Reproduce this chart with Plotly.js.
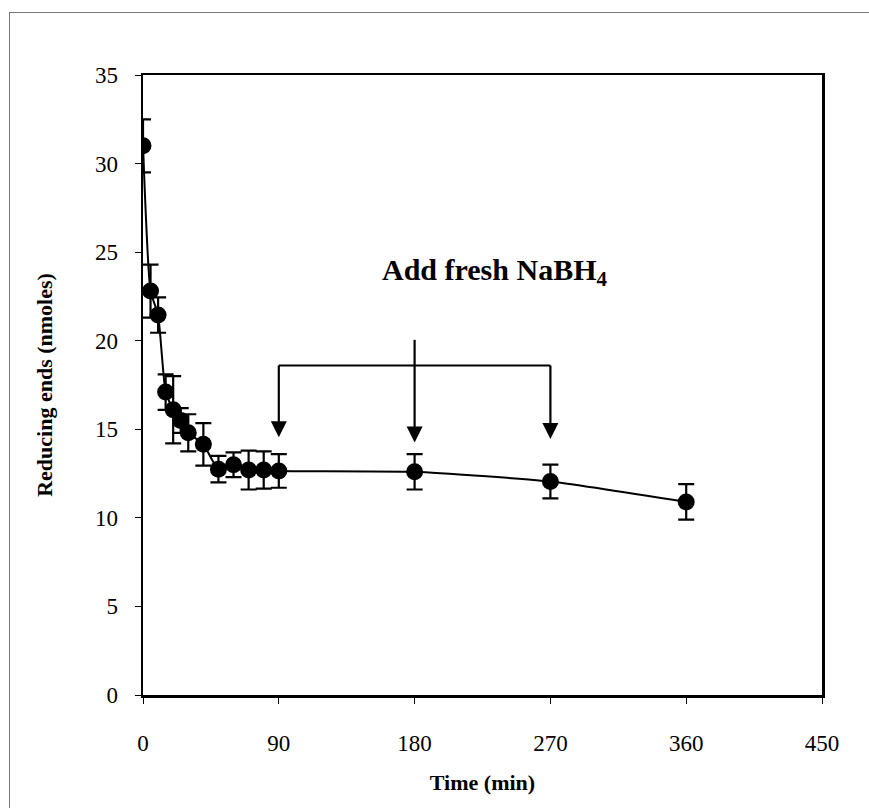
<!DOCTYPE html>
<html>
<head>
<meta charset="utf-8">
<script src="https://cdn.plot.ly/plotly-3.0.1.min.js"></script>
<style>
html,body{margin:0;padding:0;background:#fff;}
#wrap{position:relative;width:869px;height:808px;}
#chart{width:869px;height:808px;}
#frame{position:absolute;left:9px;top:12px;right:0;bottom:0;border-top:1px solid #777;border-left:1px solid #777;pointer-events:none;}
</style>
</head>
<body>
<div id="wrap"><div id="chart"></div><div id="frame"></div></div>
<script>
// Data
const timeMin = [0, 5, 10, 15, 20, 25, 30, 40, 50, 60, 70, 80, 90, 180, 270, 360];
const reducingEnds = [31.0, 22.8, 21.45, 17.1, 16.1, 15.5, 14.8, 14.15, 12.75, 13.0, 12.7, 12.7, 12.65, 12.6, 12.05, 10.9];
const errorVals = [1.5, 1.5, 1.0, 1.0, 1.9, 0.7, 1.05, 1.2, 0.75, 0.7, 1.1, 1.05, 0.95, 1.0, 0.95, 1.0];
const xTicks = [0, 90, 180, 270, 360, 450];
const yTicks = [0, 5, 10, 15, 20, 25, 30, 35];
const additionTimes = [90, 180, 270];
const bracketLevel = 18.6;
const centerStart = 20.05;
const arrowTips = [14.55, 14.25, 14.45];
const noteText = 'Add fresh NaBH<sub>4</sub>';
const notePos = [233, 23.9];

const serif = 'Liberation Serif, Times New Roman, serif';

const dataTrace = {
  x: timeMin,
  y: reducingEnds,
  type: 'scatter',
  mode: 'lines+markers',
  line: {color: '#000', width: 2, shape: 'spline', smoothing: 0.5},
  marker: {color: '#000', size: 17, symbol: 'circle'},
  error_y: {type: 'data', array: errorVals, visible: true, color: '#000', thickness: 2.2, width: 8},
  showlegend: false,
  hoverinfo: 'x+y'
};

const arrowHeads = {
  x: additionTimes,
  y: arrowTips,
  type: 'scatter',
  mode: 'markers',
  marker: {color: '#000', size: 16, symbol: 'arrow-down', line: {width: 0}},
  showlegend: false,
  hoverinfo: 'skip'
};

const shapes = [
  {type: 'line', xref: 'x', yref: 'y', x0: additionTimes[0], x1: additionTimes[2], y0: bracketLevel, y1: bracketLevel, line: {color: '#000', width: 2}}
].concat(additionTimes.map((t, i) => ({
  type: 'line', xref: 'x', yref: 'y', x0: t, x1: t,
  y0: (i === 1 ? centerStart : bracketLevel), y1: arrowTips[i] + 0.5,
  line: {color: '#000', width: 2.2}
})));

const annotations = [{
  x: notePos[0], y: notePos[1], xref: 'x', yref: 'y', showarrow: false,
  text: '<b>' + noteText + '</b>',
  font: {family: serif, size: 30, color: '#000'}
}];

const layout = {
  width: 869, height: 808,
  margin: {l: 143, r: 47, t: 75, b: 113},
  paper_bgcolor: '#fff', plot_bgcolor: '#fff',
  font: {family: serif, color: '#000', size: 23},
  xaxis: {
    range: [0, 450], tickvals: xTicks, ticktext: xTicks.map(String),
    showgrid: false, zeroline: false,
    showline: true, linecolor: '#000', linewidth: 2.5, mirror: true,
    ticks: 'outside', ticklen: 6, tickwidth: 1, tickcolor: '#000',
    ticklabelstandoff: 20,
    tickfont: {family: serif, size: 23, color: '#000'},
    title: {text: '<b>Time (min)</b>', font: {family: serif, size: 22, color: '#000'}, standoff: 20}
  },
  yaxis: {
    range: [0, 35], tickvals: yTicks, ticktext: yTicks.map(String),
    showgrid: false, zeroline: false,
    showline: true, linecolor: '#000', linewidth: 2.5, mirror: true,
    ticks: 'outside', ticklen: 6, tickwidth: 1, tickcolor: '#000',
    ticklabelstandoff: 12,
    tickfont: {family: serif, size: 23, color: '#000'},
    title: {text: '<b>Reducing ends (nmoles)</b>', font: {family: serif, size: 22, color: '#000'}, standoff: 36}
  },
  shapes: shapes,
  annotations: annotations
};

Plotly.newPlot('chart', [dataTrace, arrowHeads], layout, {displayModeBar: false, staticPlot: true});
</script>
</body>
</html>
